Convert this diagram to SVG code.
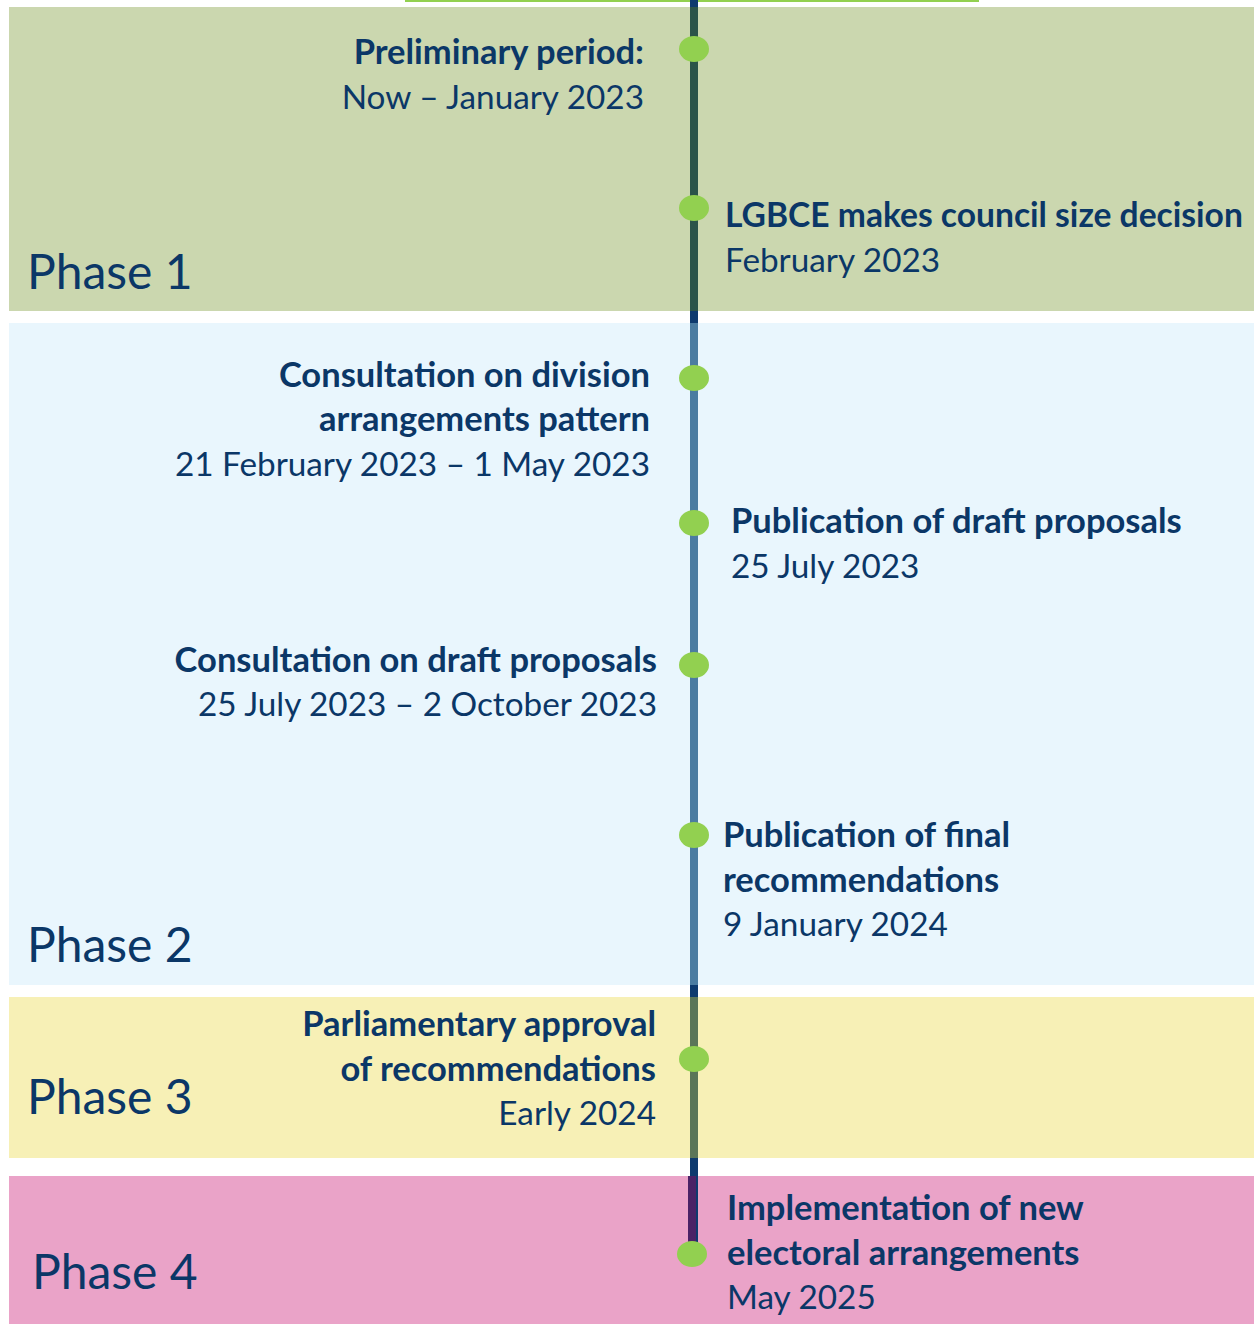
<svg xmlns="http://www.w3.org/2000/svg" width="1254" height="1324" viewBox="0 0 1254 1324">
<style>
text{font-family:Lato,"Open Sans","Liberation Sans",sans-serif;fill:#0B3767}
.b{font-weight:bold;font-size:34.5px}
.r{font-size:33.3px}
.ph{font-size:48px}
.L{text-anchor:end}
.dot{fill:#92D050}
</style>
<rect width="1254" height="1324" fill="#ffffff"/>
<g id="phase1"><rect x="9" y="7" width="1245" height="304" fill="#CBD7AF"/><text class="ph" x="27" y="289">Phase 1</text></g>
<g id="phase2"><rect x="9" y="323" width="1245" height="662" fill="#E9F6FD"/><text class="ph" x="27" y="962">Phase 2</text></g>
<g id="phase3"><rect x="9" y="997" width="1245" height="161" fill="#F7F0B6"/><text class="ph" x="27" y="1114">Phase 3</text></g>
<g id="phase4"><rect x="9" y="1176" width="1245" height="148" fill="#EAA3C8"/><text class="ph" x="32" y="1289">Phase 4</text></g>
<g id="connectors">
<rect x="405" y="0" width="574" height="2" fill="#92D050"/>
<rect x="690" y="0" width="8" height="1254" fill="#0E3A6E"/>
<rect x="690" y="7" width="8" height="304" fill="#2B5449"/>
<rect x="690" y="323" width="8" height="662" fill="#4B7CA1"/>
<rect x="690" y="997" width="8" height="161" fill="#5A7558"/>
<rect x="688" y="1176" width="8" height="78" fill="#4A2266"/>
</g>
<g id="n1"><ellipse class="dot" cx="694" cy="49" rx="15" ry="13"/><text class="b L" x="644" y="64">Preliminary period:</text><text class="r L" x="644" y="109">Now – January 2023</text></g>
<g id="n2"><ellipse class="dot" cx="694" cy="208" rx="15" ry="13"/><text class="b" x="725" y="227" style="font-size:33.6px">LGBCE makes council size decision</text><text class="r" x="725" y="272">February 2023</text></g>
<g id="n3"><ellipse class="dot" cx="694" cy="378" rx="15" ry="13"/><text class="b L" x="650" y="387">Consultation on division</text><text class="b L" x="650" y="431">arrangements pattern</text><text class="r L" x="650" y="476">21 February 2023 – 1 May 2023</text></g>
<g id="n4"><ellipse class="dot" cx="694" cy="523" rx="15" ry="13"/><text class="b" x="731" y="533">Publication of draft proposals</text><text class="r" x="731" y="578">25 July 2023</text></g>
<g id="n5"><ellipse class="dot" cx="694" cy="665" rx="15" ry="13"/><text class="b L" x="657" y="672">Consultation on draft proposals</text><text class="r L" x="657" y="716">25 July 2023 – 2 October 2023</text></g>
<g id="n6"><ellipse class="dot" cx="694" cy="835" rx="15" ry="13"/><text class="b" x="723" y="847">Publication of final</text><text class="b" x="723" y="892">recommendations</text><text class="r" x="723" y="936">9 January 2024</text></g>
<g id="n7"><ellipse class="dot" cx="694" cy="1059" rx="15" ry="13"/><text class="b L" x="656" y="1036">Parliamentary approval</text><text class="b L" x="656" y="1081">of recommendations</text><text class="r L" x="656" y="1125">Early 2024</text></g>
<g id="n8"><ellipse class="dot" cx="692" cy="1254" rx="15" ry="13"/><text class="b" x="727" y="1220">Implementation of new</text><text class="b" x="727" y="1265">electoral arrangements</text><text class="r" x="727" y="1309">May 2025</text></g>
</svg>
